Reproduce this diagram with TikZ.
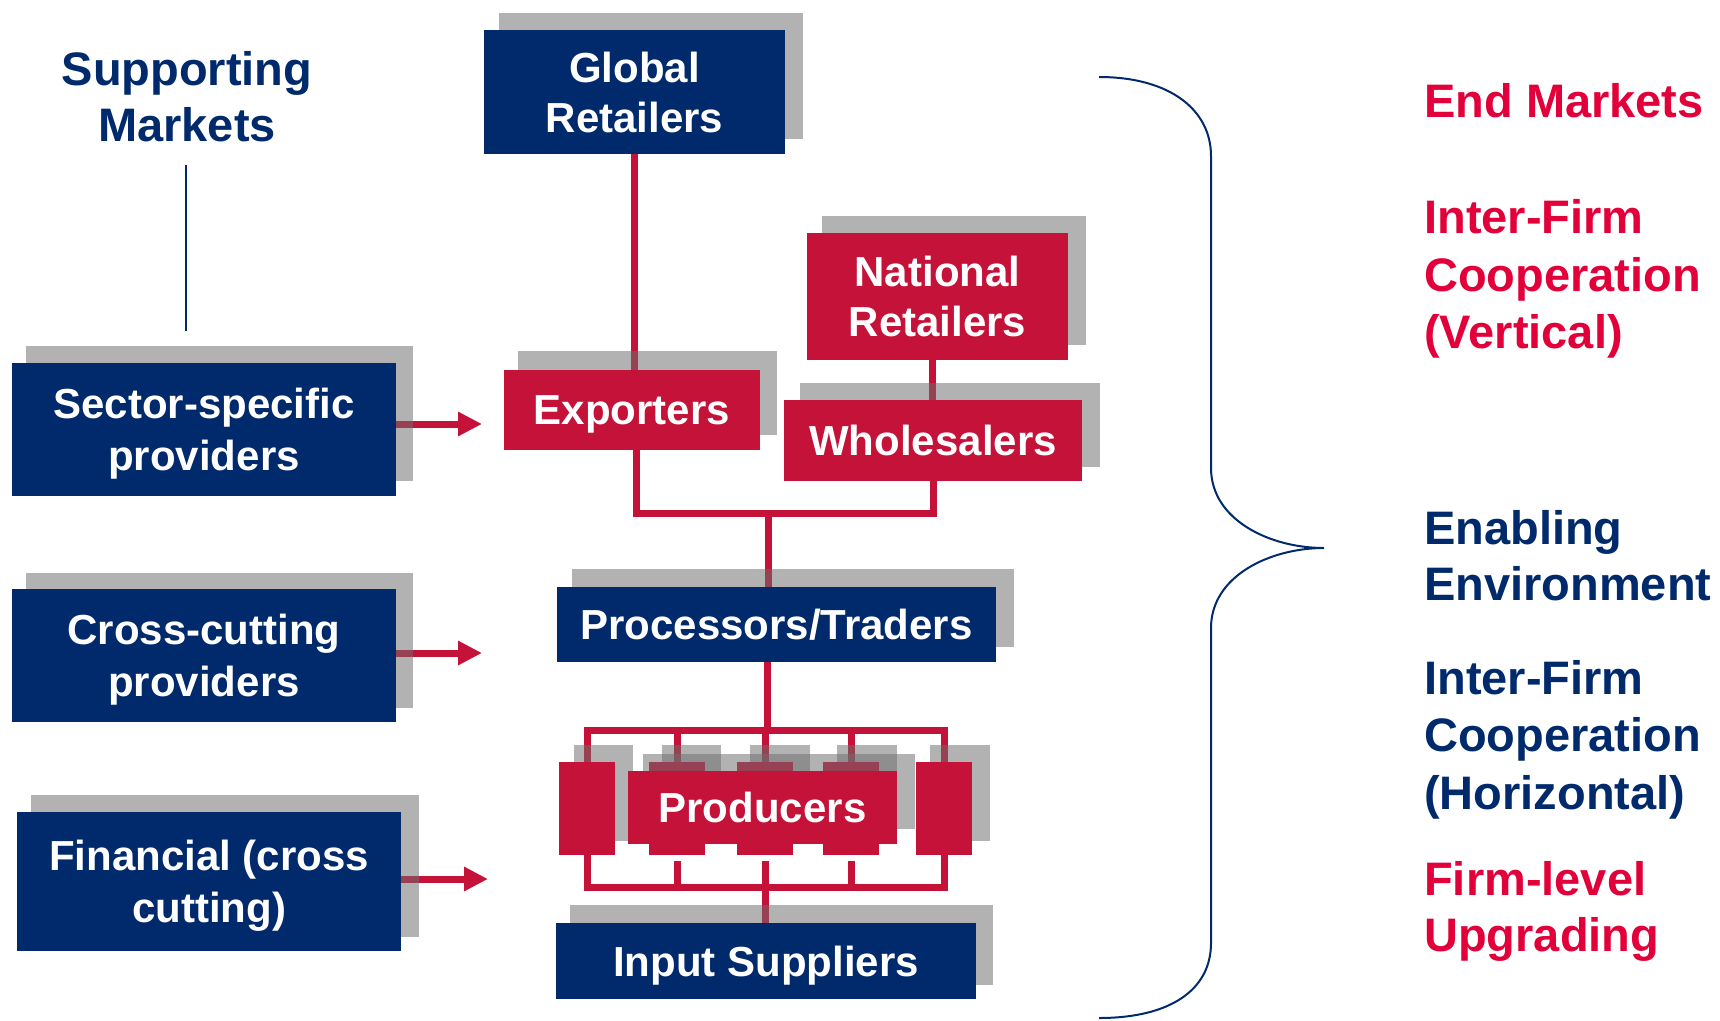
\documentclass[tikz,border=0pt]{standalone}
\usepackage{fontspec}
\setmainfont{Liberation Sans}
\usetikzlibrary{arrows.meta}
\definecolor{navy}{RGB}{0,42,108}
\definecolor{boxred}{RGB}{196,18,56}
\definecolor{txtred}{RGB}{226,0,58}
\definecolor{shade}{RGB}{110,110,110}
\pgfdeclarelayer{lines}
\pgfdeclarelayer{shadows}
\pgfdeclarelayer{topshadow}
\pgfdeclarelayer{topbox}
\pgfsetlayers{lines,shadows,main,topshadow,topbox}
\begin{document}
\begin{tikzpicture}[x=1pt,y=-1pt,
  box/.style={rectangle, inner sep=0pt, text depth=0pt, text=white, align=center, font=\bfseries\fontsize{42}{50}\selectfont},
  bluebox/.style={box, fill=navy},
  redbox/.style={box, fill=boxred},
  sidebox/.style={bluebox, font=\bfseries\fontsize{42}{52}\selectfont},
  shadowrect/.style={fill=shade, fill opacity=0.53},
  conn/.style={draw=boxred, line width=7pt},
  arr/.style={conn, -{Triangle[length=24pt,width=23pt]}},
  sidelabel/.style={anchor=base west, inner sep=0pt, font=\bfseries\fontsize{47}{57}\selectfont},
]
\useasboundingbox (0,0) rectangle (1720,1020);

% ---------- boxes ----------
\node[bluebox, minimum width=301pt, minimum height=124pt] (glob) at (634.5,92) {Global\\Retailers};
\node[redbox, minimum width=256pt, minimum height=80pt] (exp) at (632,410) {Exporters};
\node[redbox, minimum width=261pt, minimum height=127pt] (nat) at (937.5,296.5) {National\\Retailers};
\node[redbox, minimum width=298pt, minimum height=81pt] (whs) at (933,440.5) {Wholesalers};
\node[bluebox, minimum width=439pt, minimum height=75pt] (proc) at (776.5,624.5) {Processors/Traders};
\node[redbox, minimum width=56pt, minimum height=93pt] (pl) at (587,808.5) {};
\node[redbox, minimum width=56pt, minimum height=93pt] (pr) at (944,808.5) {};
\node[redbox, minimum width=56pt, minimum height=93pt] (s1) at (677,808.5) {};
\node[redbox, minimum width=56pt, minimum height=93pt] (s2) at (765,808.5) {};
\node[redbox, minimum width=56pt, minimum height=93pt] (s3) at (851,808.5) {};
\begin{pgfonlayer}{topbox}
\node[redbox, minimum width=269pt, minimum height=73pt] (prod) at (762.5,807.5) {Producers};
\end{pgfonlayer}
\node[bluebox, minimum width=420pt, minimum height=76pt] (inp) at (766,961) {Input Suppliers};
\node[sidebox, minimum width=384pt, minimum height=133pt] (sec) at (204,429.5) {Sector-specific\\providers};
\node[sidebox, minimum width=384pt, minimum height=133pt] (cross) at (204,655.5) {Cross-cutting\\providers};
\node[sidebox, minimum width=384pt, minimum height=139pt] (fin) at (209,881.5) {Financial (cross\\cutting)};

% ---------- shadows ----------
\begin{pgfonlayer}{shadows}
\fill[shadowrect] (499,13) rectangle (803,139);
\fill[shadowrect] (518,351) rectangle (777,435);
\fill[shadowrect] (822,216) rectangle (1086,345);
\fill[shadowrect] (800,383) rectangle (1100,467);
\fill[shadowrect] (572,569) rectangle (1014,647);
\fill[shadowrect] (574,745) rectangle (633,841);
\fill[shadowrect] (930,745) rectangle (990,841);
\fill[shadowrect] (662,745) rectangle (721,841);
\fill[shadowrect] (750,745) rectangle (810,841);
\fill[shadowrect] (837,745) rectangle (897,841);
\fill[shadowrect] (570,905) rectangle (993,985);
\fill[shadowrect] (26,346) rectangle (413,481);
\fill[shadowrect] (26,573) rectangle (413,708);
\fill[shadowrect] (31,795) rectangle (419,937);
\end{pgfonlayer}
\begin{pgfonlayer}{topshadow}
\fill[shadowrect] (643,754) rectangle (915,829);
\end{pgfonlayer}

% ---------- connectors ----------
\coordinate (j1) at (768,513);
\coordinate (bt) at (767,730);
\coordinate (bb) at (765,887);
\coordinate (t1) at (482,424);
\coordinate (t2) at (482,653);
\coordinate (t3) at (488,879);
\begin{pgfonlayer}{lines}
\draw[conn] (glob.south) -- (glob.south |- exp.north);
\draw[conn] (whs.north -| nat.south) ++(-5pt,0) -- ([xshift=-5pt]nat.south);
\draw[conn] ([xshift=4pt]exp.south) |- (j1) -| (whs.south);
\draw[conn] (j1) -- (j1 |- proc.north);
\draw[conn] (bt |- proc.south) -- (bt);
\draw[conn] (pl.north) |- (bt) -| (pr.north);
\draw[conn] (s1.north) -- (s1.north |- bt);
\draw[conn] (s2.north) -- (s2.north |- bt);
\draw[conn] (s3.north) -- (s3.north |- bt);
\draw[conn] (pl.south) |- (bb) -| (pr.south);
\draw[conn, shorten <=6pt] (s1.south) -- (s1.south |- bb);
\draw[conn, shorten <=6pt] (s2.south) -- (s2.south |- bb);
\draw[conn, shorten <=6pt] (s3.south) -- (s3.south |- bb);
\draw[conn] (bb) -- (bb |- inp.north);
\draw[arr] (sec.east |- t1) -- (t1);
\draw[arr] (cross.east |- t2) -- (t2);
\draw[arr] (fin.east |- t3) -- (t3);
\end{pgfonlayer}

% ---------- supporting markets ----------
\node[text=navy, align=center, inner sep=0pt, font=\bfseries\fontsize{47}{56}\selectfont] (sm) at (187,97) {Supporting\\Markets};
\coordinate (smb) at (186,331);
\draw[navy, line width=2pt] (smb |- 0,165) -- (smb);

% ---------- brace ----------
\draw[navy, line width=2pt] (1099,77) .. controls (1170,77) and (1211,110) .. (1211,156)
  -- (1211,468) .. controls (1211,520) and (1270,548) .. (1324,548)
  .. controls (1270,548) and (1211,576) .. (1211,628)
  -- (1211,943) .. controls (1211,990) and (1170,1018) .. (1099,1018);

% ---------- side labels ----------
\node[sidelabel, text=txtred] (l1) at (1424,117) {End Markets};
\node[sidelabel, text=txtred] (l2a) at (1424,233) {Inter-Firm};
\node[sidelabel, text=txtred] (l2b) at (1424,291) {Cooperation};
\node[sidelabel, text=txtred] (l2c) at (1424,348) {(Vertical)};
\node[sidelabel, text=navy] (l3a) at (1424,544) {Enabling};
\node[sidelabel, text=navy] (l3b) at (1424,600) {Environment};
\node[sidelabel, text=navy] (l4a) at (1424,694) {Inter-Firm};
\node[sidelabel, text=navy] (l4b) at (1424,751) {Cooperation};
\node[sidelabel, text=navy] (l4c) at (1424,809) {(Horizontal)};
\node[sidelabel, text=txtred] (l5a) at (1424,895) {Firm-level};
\node[sidelabel, text=txtred] (l5b) at (1424,951) {Upgrading};
\end{tikzpicture}
\end{document}
